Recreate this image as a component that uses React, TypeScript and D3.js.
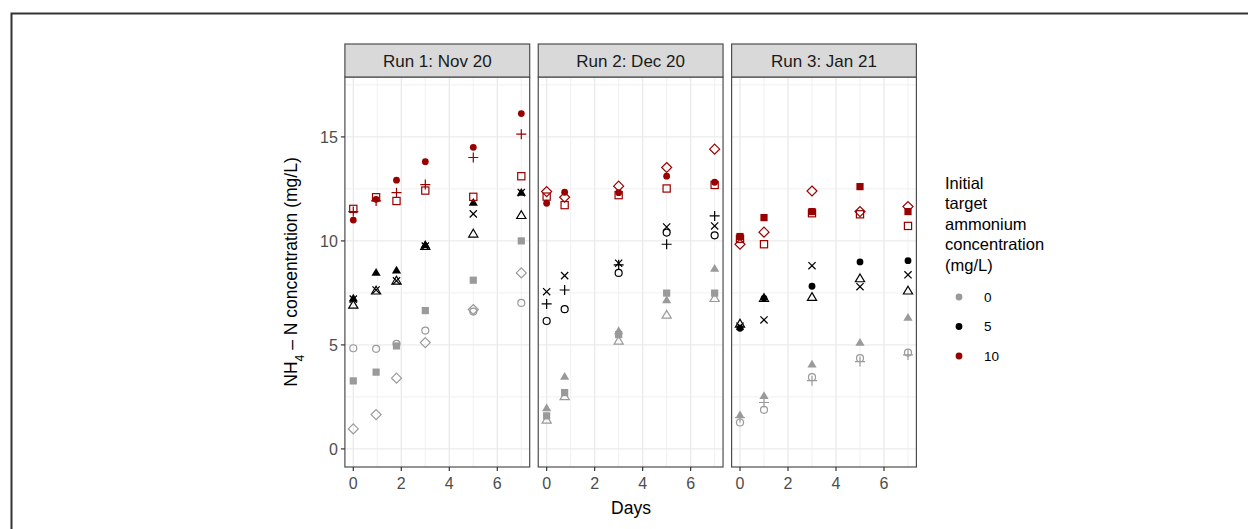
import React from "react";
import * as d3 from "d3";

// ---------- data ----------
const runs = ["Run 1: Nov 20", "Run 2: Dec 20", "Run 3: Jan 21"];
const run1Days = [0, 0.95, 1.8, 3, 5, 7];
const run2Days = [0, 0.75, 3, 5, 7];
const run3Days = [0, 1, 3, 5, 7];
const concLevels = ["0", "5", "10"];
const yTicks = [0, 5, 10, 15];
const xTicks = [0, 2, 4, 6];

// Run 1
const r1_10_circle = [11.0, 12.0, 12.92, 13.81, 14.5, 16.12];
const r1_10_plus = [11.41, 11.92, 12.32, 12.71, 14.01, 15.13];
const r1_10_square = [11.54, 12.1, 11.92, 12.42, 12.12, 13.11];
const r1_5_triangle = [7.24, 8.48, 8.59, 9.81, 11.84, 12.32];
const r1_5_cross = [7.2, 7.64, 8.08, 9.75, 11.3, 12.32];
const r1_5_openTriangle = [6.92, 7.6, 8.08, 9.75, 10.34, 11.23];
const r1_0_square = [3.27, 3.69, 4.95, 6.65, 8.11, 10.0];
const r1_0_openCircle = [4.84, 4.81, 5.05, 5.69, 6.6, 7.02];
const r1_0_diamond = [0.96, 1.65, 3.4, 5.11, 6.7, 8.46];

// Run 2
const r2_10_diamond = [12.37, 12.1, 12.63, 13.53, 14.41];
const r2_10_square = [12.13, 11.72, 12.2, 12.52, 12.69];
const r2_10_circle = [11.81, 12.34, 12.32, 13.11, 12.82];
const r2_5_cross = [7.56, 8.33, 8.93, 10.67, 10.72];
const r2_5_plus = [6.97, 7.64, 8.85, 9.84, 11.2];
const r2_5_openCircle = [6.15, 6.72, 8.46, 10.4, 10.27];
const r2_0_triangle = [1.96, 3.48, 5.67, 7.16, 8.67];
const r2_0_square = [1.59, 2.71, 5.5, 7.49, 7.49];
const r2_0_openTriangle = [1.39, 2.52, 5.19, 6.44, 7.24];

// Run 3
const r3_10_square = [10.21, 11.12, 11.41, 12.61, 11.41];
const r3_10_diamond = [9.84, 10.42, 12.4, 11.41, 11.65];
const r3_10_openSquare = [10.1, 9.84, 11.33, 11.28, 10.72];
const r3_5_circle = [5.8, 7.24, 7.82, 8.99, 9.05];
const r3_5_cross = [5.9, 6.2, 8.81, 7.8, 8.37];
const r3_5_openTriangle = [6.01, 7.24, 7.29, 8.19, 7.6];
const r3_0_triangle = [1.63, 2.55, 4.07, 5.11, 6.31];
const r3_0_plus = [1.51, 2.23, 3.28, 4.2, 4.52];
const r3_0_openCircle = [1.27, 1.88, 3.45, 4.36, 4.63];

type Shape =
  | "circle"
  | "triangle"
  | "square"
  | "plus"
  | "cross"
  | "openCircle"
  | "openTriangle"
  | "openSquare"
  | "diamond";

const series: { run: number; conc: string; shape: Shape; values: number[] }[] = [
  { run: 0, conc: "0", shape: "square", values: r1_0_square },
  { run: 0, conc: "0", shape: "openCircle", values: r1_0_openCircle },
  { run: 0, conc: "0", shape: "diamond", values: r1_0_diamond },
  { run: 0, conc: "5", shape: "openTriangle", values: r1_5_openTriangle },
  { run: 0, conc: "5", shape: "cross", values: r1_5_cross },
  { run: 0, conc: "5", shape: "triangle", values: r1_5_triangle },
  { run: 0, conc: "10", shape: "openSquare", values: r1_10_square },
  { run: 0, conc: "10", shape: "plus", values: r1_10_plus },
  { run: 0, conc: "10", shape: "circle", values: r1_10_circle },

  { run: 1, conc: "0", shape: "openTriangle", values: r2_0_openTriangle },
  { run: 1, conc: "0", shape: "square", values: r2_0_square },
  { run: 1, conc: "0", shape: "triangle", values: r2_0_triangle },
  { run: 1, conc: "5", shape: "openCircle", values: r2_5_openCircle },
  { run: 1, conc: "5", shape: "plus", values: r2_5_plus },
  { run: 1, conc: "5", shape: "cross", values: r2_5_cross },
  { run: 1, conc: "10", shape: "circle", values: r2_10_circle },
  { run: 1, conc: "10", shape: "openSquare", values: r2_10_square },
  { run: 1, conc: "10", shape: "diamond", values: r2_10_diamond },

  { run: 2, conc: "0", shape: "openCircle", values: r3_0_openCircle },
  { run: 2, conc: "0", shape: "plus", values: r3_0_plus },
  { run: 2, conc: "0", shape: "triangle", values: r3_0_triangle },
  { run: 2, conc: "5", shape: "openTriangle", values: r3_5_openTriangle },
  { run: 2, conc: "5", shape: "cross", values: r3_5_cross },
  { run: 2, conc: "5", shape: "circle", values: r3_5_circle },
  { run: 2, conc: "10", shape: "openSquare", values: r3_10_openSquare },
  { run: 2, conc: "10", shape: "square", values: r3_10_square },
  { run: 2, conc: "10", shape: "diamond", values: r3_10_diamond },
];

const runDays = [run1Days, run2Days, run3Days];

// ---------- styling ----------
const FONT = "'Liberation Sans', Arial, Helvetica, sans-serif";
const colorScale = d3
  .scaleOrdinal<string, string>()
  .domain(concLevels)
  .range(["#9a9a9a", "#000000", "#990000"]);

const panelLeft0 = 344.9;
const panelStep = 193.35;
const panelW = 184.8;
const plotTop = 77;
const plotBottom = 467;
const stripTop = 44;

const yScale = d3.scaleLinear().domain([-0.87, 17.88]).range([plotBottom, plotTop]);

function Marker({ x, y, shape, color }: { x: number; y: number; shape: Shape; color: string }) {
  const sw = 1.2;
  switch (shape) {
    case "circle":
      return <circle cx={x} cy={y} r={3.4} fill={color} />;
    case "openCircle":
      return <circle cx={x} cy={y} r={3.5} fill="none" stroke={color} strokeWidth={sw} />;
    case "square":
      return <rect x={x - 3.6} y={y - 3.6} width={7.2} height={7.2} fill={color} />;
    case "openSquare":
      return <rect x={x - 3.6} y={y - 3.6} width={7.2} height={7.2} fill="none" stroke={color} strokeWidth={sw} />;
    case "triangle": {
      const p = `M${x},${y - 4.6}L${x + 4.6},${y + 3.2}L${x - 4.6},${y + 3.2}Z`;
      return <path d={p} fill={color} />;
    }
    case "openTriangle": {
      const p = `M${x},${y - 4.6}L${x + 4.6},${y + 3.2}L${x - 4.6},${y + 3.2}Z`;
      return <path d={p} fill="none" stroke={color} strokeWidth={sw} />;
    }
    case "diamond": {
      const p = `M${x},${y - 5}L${x + 5},${y}L${x},${y + 5}L${x - 5},${y}Z`;
      return <path d={p} fill="none" stroke={color} strokeWidth={sw} />;
    }
    case "plus": {
      const p = `M${x - 5},${y}H${x + 5}M${x},${y - 5}V${y + 5}`;
      return <path d={p} fill="none" stroke={color} strokeWidth={sw} />;
    }
    case "cross": {
      const a = 3.6;
      const p = `M${x - a},${y - a}L${x + a},${y + a}M${x - a},${y + a}L${x + a},${y - a}`;
      return <path d={p} fill="none" stroke={color} strokeWidth={sw} />;
    }
  }
  return null;
}

export default function App() {
  const yMinor = [2.5, 7.5, 12.5, 17.5];
  const xMinor = [1, 3, 5, 7];
  return (
    <svg
      width={1248}
      height={529}
      style={{ position: "absolute", left: 0, top: 0, background: "#fff" }}
      fontFamily={FONT}
    >
      <rect x={0} y={0} width={1248} height={529} fill="#fff" />
      {/* outer frame */}
      <path d="M11.5,540V13.5H1260" fill="none" stroke="#333" strokeWidth={2} />

      {runs.map((run, i) => {
        const left = panelLeft0 + i * panelStep;
        const x = d3.scaleLinear().domain([-0.35, 7.35]).range([left, left + panelW]);
        const days = runDays[i];
        return (
          <g key={run}>
            {/* minor grid */}
            {yMinor.map((v) => (
              <line key={"ym" + v} x1={left} x2={left + panelW} y1={yScale(v)} y2={yScale(v)} stroke="#EBEBEB" strokeWidth={0.7} />
            ))}
            {xMinor.map((v) => (
              <line key={"xm" + v} x1={x(v)} x2={x(v)} y1={plotTop} y2={plotBottom} stroke="#EBEBEB" strokeWidth={0.7} />
            ))}
            {/* major grid */}
            {yTicks.map((v) => (
              <line key={"yM" + v} x1={left} x2={left + panelW} y1={yScale(v)} y2={yScale(v)} stroke="#EBEBEB" strokeWidth={1.4} />
            ))}
            {xTicks.map((v) => (
              <line key={"xM" + v} x1={x(v)} x2={x(v)} y1={plotTop} y2={plotBottom} stroke="#EBEBEB" strokeWidth={1.4} />
            ))}
            {/* points */}
            {series
              .filter((s) => s.run === i)
              .map((s, si) =>
                s.values.map((v, di) => (
                  <Marker key={si + "-" + di} x={x(days[di])} y={yScale(v)} shape={s.shape} color={colorScale(s.conc)} />
                ))
              )}
            {/* panel border */}
            <rect x={left} y={plotTop} width={panelW} height={plotBottom - plotTop} fill="none" stroke="#4d4d4d" strokeWidth={1.2} />
            {/* strip */}
            <rect x={left} y={stripTop} width={panelW} height={plotTop - stripTop} fill="#D9D9D9" stroke="#4d4d4d" strokeWidth={1.2} />
            <text x={left + panelW / 2} y={(stripTop + plotTop) / 2} dy="0.36em" textAnchor="middle" fontSize={17} fill="#1A1A1A">
              {run}
            </text>
            {/* x ticks */}
            {xTicks.map((v) => (
              <g key={"xt" + v}>
                <line x1={x(v)} x2={x(v)} y1={plotBottom} y2={plotBottom + 4} stroke="#333" strokeWidth={1.2} />
                <text x={x(v)} y={plotBottom + 16} dy="0.36em" textAnchor="middle" fontSize={16} fill="#4D4D4D">
                  {v}
                </text>
              </g>
            ))}
          </g>
        );
      })}

      {/* y axis ticks */}
      {yTicks.map((v) => (
        <g key={"yt" + v}>
          <line x1={panelLeft0 - 4} x2={panelLeft0} y1={yScale(v)} y2={yScale(v)} stroke="#333" strokeWidth={1.2} />
          <text x={panelLeft0 - 7} y={yScale(v)} dy="0.36em" textAnchor="end" fontSize={16} fill="#4D4D4D">
            {v}
          </text>
        </g>
      ))}

      {/* axis titles */}
      <text
        transform={`translate(297,${(plotTop + plotBottom) / 2}) rotate(-90)`}
        textAnchor="middle"
        fontSize={17.5}
        fill="#000"
      >
        NH<tspan baselineShift="sub" fontSize={12}>4</tspan>
        <tspan> – N concentration (mg/L)</tspan>
      </text>
      <text x={631} y={508} dy="0.36em" textAnchor="middle" fontSize={17.5} fill="#000">
        Days
      </text>

      {/* legend */}
      {["Initial", "target", "ammonium", "concentration", "(mg/L)"].map((t, i) => (
        <text key={t} x={945} y={183 + i * 20.4} dy="0.36em" fontSize={16.5} fill="#000">
          {t}
        </text>
      ))}
      {concLevels.map((c, i) => (
        <g key={"lg" + c}>
          <circle cx={959} cy={297 + i * 29.5} r={3.4} fill={colorScale(c)} />
          <text x={984} y={297 + i * 29.5} dy="0.36em" fontSize={13.5} fill="#000">
            {c}
          </text>
        </g>
      ))}
    </svg>
  );
}
